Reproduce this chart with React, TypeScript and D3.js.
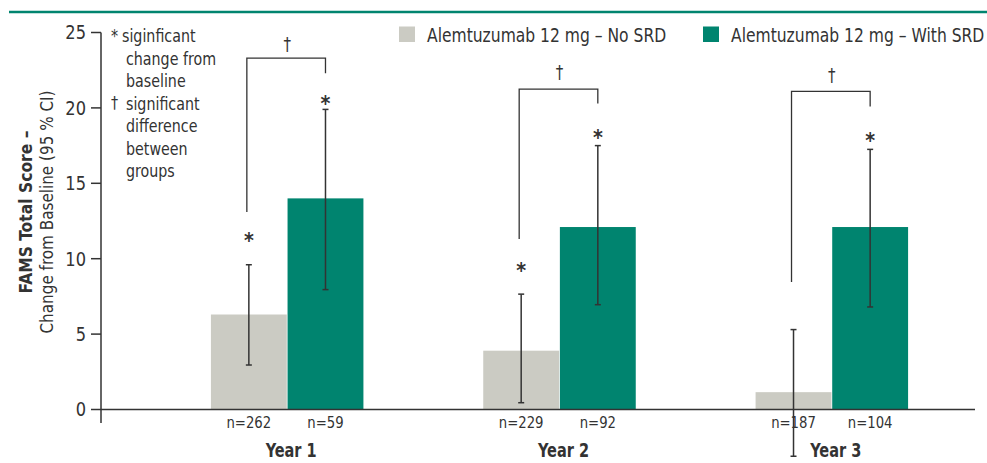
import React from 'react'
import * as d3 from 'd3'

const years = ['Year 1', 'Year 2', 'Year 3']
const series = ['Alemtuzumab 12 mg – No SRD', 'Alemtuzumab 12 mg – With SRD']
const noSrd = [6.3, 3.9, 1.15]
const withSrd = [14.0, 12.1, 12.1]
const noSrdLo = [2.95, 0.45, -3.1]
const noSrdHi = [9.6, 7.65, 5.3]
const withSrdLo = [7.95, 6.95, 6.8]
const withSrdHi = [19.9, 17.5, 17.25]
const nNoSrd = ['n=262', 'n=229', 'n=187']
const nWithSrd = ['n=59', 'n=92', 'n=104']
const yTicks = [0, 5, 10, 15, 20, 25]
// significance marks, in score units
const starNoSrd = [11.7, 9.7, null]
const starWithSrd = [20.8, 18.5, 18.3]
const bracketTop = [23.3, 21.25, 21.1]
const bracketLeftEnd = [13.1, 11.3, 8.45]
const bracketRightEnd = [22.3, 20.3, 20.1]
const daggerAt = [24.2, 22.4, 22.2]
const noteLines = ['siginficant', 'change from', 'baseline', 'significant', 'difference', 'between', 'groups']

const GRAY = '#cbcbc3'
const TEAL = '#00846f'
const INK = '#333'
const FONT = '"DejaVu Sans Condensed", "Liberation Sans Narrow", sans-serif'

// narrower text, the original face is a condensed one
function T(props: any) {
  const { x, y, sx = 0.88, children, ...rest } = props
  return (
    <text transform={`translate(${x},${y}) scale(${sx},1)`} fill={INK} {...rest}>{children}</text>
  )
}

export default function App() {
  const width = 987
  const height = 463
  const y = d3.scaleLinear().domain([0, 25]).range([409.5, 32.5])
  const x = d3.scaleBand().domain(years).range([151, 968]).paddingInner(0.44).paddingOuter(0.22)
  const xs = d3.scaleBand().domain(series).range([0, x.bandwidth()]).paddingInner(0.01)
  const colors = [GRAY, TEAL]
  const vals = [noSrd, withSrd]
  const los = [noSrdLo, withSrdLo]
  const his = [noSrdHi, withSrdHi]
  const ns = [nNoSrd, nWithSrd]
  const stars = [starNoSrd, starWithSrd]
  const cx = (i: number, s: number) => (x(years[i]) as number) + (xs(series[s]) as number) + xs.bandwidth() / 2

  return (
    <svg width={width} height={height} style={{ position: 'absolute', left: 0, top: 0, fontFamily: FONT }}>
      <line x1={9} x2={987} y1={12} y2={12} stroke={TEAL} strokeWidth={2.5} />

      {/* bars */}
      {years.map((yr, i) => (
        <g key={yr}>
          {series.map((s, k) => (
            <rect key={s} x={(x(yr) as number) + (xs(s) as number)} width={xs.bandwidth()}
              y={y(vals[k][i])} height={y(0) - y(vals[k][i])} fill={colors[k]} />
          ))}
        </g>
      ))}

      {/* axes */}
      <line x1={101} x2={101} y1={y(25)} y2={423} stroke={INK} strokeWidth={1.5} />
      {yTicks.map(t => (
        <g key={t}>
          <line x1={91} x2={101} y1={y(t)} y2={y(t)} stroke={INK} strokeWidth={1.5} />
          <T x={86} y={y(t)} sx={0.95} dy="0.36em" textAnchor="end" fontSize={19}>{t}</T>
        </g>
      ))}
      <line x1={101} x2={975} y1={y(0)} y2={y(0)} stroke={INK} strokeWidth={1.5} />

      <g transform="translate(32,212) rotate(-90)">
        <text textAnchor="middle" fontSize={17} fontWeight="bold" fill={INK} textLength={163} lengthAdjust="spacingAndGlyphs">FAMS Total Score –</text>
      </g>
      <g transform="translate(53,212) rotate(-90)">
        <text textAnchor="middle" fontSize={18} fill={INK} textLength={243} lengthAdjust="spacingAndGlyphs">Change from Baseline (95 % CI)</text>
      </g>

      {/* notes */}
      <T x={111} y={36} dy="0.36em" fontSize={18}>*</T>
      <T x={111} y={103} dy="0.36em" fontSize={18}>†</T>
      {noteLines.map((l, i) => (
        <T key={i} x={i === 0 ? 122 : 126} y={36 + i * 22.5} dy="0.36em" fontSize={18}>{l}</T>
      ))}

      {/* error bars, labels, marks */}
      {years.map((yr, i) => (
        <g key={yr}>
          {series.map((s, k) => {
            const c = cx(i, k)
            const st = stars[k][i]
            return (
              <g key={s}>
                <line x1={c} x2={c} y1={y(his[k][i])} y2={y(los[k][i])} stroke={INK} strokeWidth={1.5} />
                <line x1={c - 3} x2={c + 3} y1={y(his[k][i])} y2={y(his[k][i])} stroke={INK} strokeWidth={1.5} />
                <line x1={c - 3} x2={c + 3} y1={y(los[k][i])} y2={y(los[k][i])} stroke={INK} strokeWidth={1.5} />
                {st !== null && (
                  <text x={c} y={y(st)} dy="0.7em" textAnchor="middle" fontSize={21} fontWeight="bold" fill={INK}>*</text>
                )}
                <T x={c} y={428} sx={0.92} textAnchor="middle" fontSize={16}>{ns[k][i]}</T>
              </g>
            )
          })}
          <path d={`M${cx(i, 0) - 2},${y(bracketLeftEnd[i])}V${y(bracketTop[i])}H${cx(i, 1)}V${y(bracketRightEnd[i])}`}
            fill="none" stroke={INK} strokeWidth={1.3} />
          <T x={(cx(i, 0) + cx(i, 1)) / 2} y={y(daggerAt[i])} dy="0.36em" textAnchor="middle" fontSize={19}>†</T>
          <T x={(x(yr) as number) + x.bandwidth() / 2 + 4} y={457} sx={0.85} textAnchor="middle" fontSize={19} fontWeight="bold">{yr}</T>
        </g>
      ))}

      {/* legend */}
      {series.map((s, k) => (
        <g key={s} transform={`translate(${[399, 703][k]},26.5)`}>
          <rect width={16} height={15.5} fill={colors[k]} />
          <T x={28} y={8.5} sx={0.91} dy="0.36em" fontSize={19}>{s}</T>
        </g>
      ))}
    </svg>
  )
}
